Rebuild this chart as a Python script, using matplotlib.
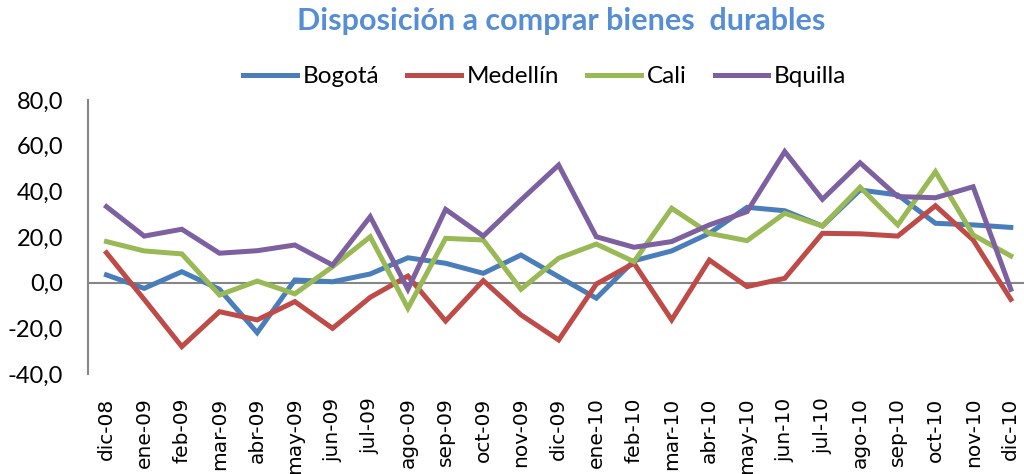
import matplotlib
matplotlib.use("Agg")
import matplotlib.pyplot as plt

# meses
meses = ["dic-08", "ene-09", "feb-09", "mar-09", "abr-09", "may-09", "jun-09",
         "jul-09", "ago-09", "sep-09", "oct-09", "nov-09", "dic-09", "ene-10",
         "feb-10", "mar-10", "abr-10", "may-10", "jun-10", "jul-10", "ago-10",
         "sep-10", "oct-10", "nov-10", "dic-10"]

bogota = [3.4, -2.5, 4.8, -2.9, -21.9, 1.2, 0.4, 3.8, 10.9, 8.5, 4.1, 12.1, 2.6,
          -6.8, 9.6, 13.9, 21.6, 33.0, 31.5, 24.8, 40.6, 38.4, 26.0, 25.3, 24.2]
medellin = [13.1, -7.3, -28.0, -12.7, -16.3, -8.3, -20.0, -6.4, 2.9, -16.8, 0.9,
            -14.1, -25.1, -0.6, 8.5, -16.3, 9.9, -1.7, 1.9, 21.6, 21.4, 20.4,
            33.7, 18.7, -7.3]
cali = [18.0, 13.9, 12.6, -5.4, 0.7, -4.9, 7.0, 20.1, -11.2, 19.4, 18.7, -2.9,
        10.7, 16.9, 9.2, 32.6, 21.6, 18.4, 30.4, 24.8, 41.8, 25.3, 48.6, 20.9, 11.7]
bquilla = [33.3, 20.4, 23.4, 12.9, 14.0, 16.5, 7.7, 28.9, -2.9, 32.1, 20.4, 36.2,
           51.5, 20.1, 15.5, 18.0, 25.3, 31.1, 57.4, 36.5, 52.5, 37.7, 37.2, 42.0, -2.9]

series = [("Bogotá", bogota, "#4A7EBB"),
          ("Medellín", medellin, "#BE4B48"),
          ("Cali", cali, "#98B954"),
          ("Bquilla", bquilla, "#7D60A0")]

plt.rcParams["font.family"] = ["Lato", "DejaVu Sans"]

fig = plt.figure(figsize=(10.24, 4.74), dpi=100)
ax = fig.add_axes([88 / 1024, 1 - 374 / 474, 1 - 88 / 1024, 274 / 474])

x = list(range(len(meses)))
for nombre, vals, color in series:
    ax.plot(x, vals, color=color, linewidth=3.6, label=nombre, solid_joinstyle="miter")

ax.axhline(0, color="#868686", linewidth=1.5, zorder=1)
ax.set_xlim(-0.49, 24.35)
ax.set_ylim(-40, 80)
ax.set_yticks(range(-40, 81, 20))
ax.set_yticklabels([f"{v:.1f}".replace(".", ",") for v in range(-40, 81, 20)], fontsize=17)
ax.set_xticks(x)
ax.set_xticklabels(meses, rotation=90, fontsize=14.5, family="DejaVu Sans")
ax.tick_params(axis="x", length=0, pad=17)
ax.tick_params(axis="y", length=0, pad=18)

for s in ["top", "right", "bottom"]:
    ax.spines[s].set_visible(False)
ax.spines["left"].set_color("#868686")
ax.spines["left"].set_linewidth(1.5)

fig.text(0.548, 0.955, "Disposición a comprar bienes  durables", ha="center", va="center",
         fontsize=22, fontweight="bold", color="#558ED5")
fig.legend(loc="center", bbox_to_anchor=(0.532, 0.838), ncol=4, frameon=False,
           fontsize=17.5, handlelength=2.2, handletextpad=0.25, columnspacing=1.15)

fig.savefig("out.png", dpi=100)
